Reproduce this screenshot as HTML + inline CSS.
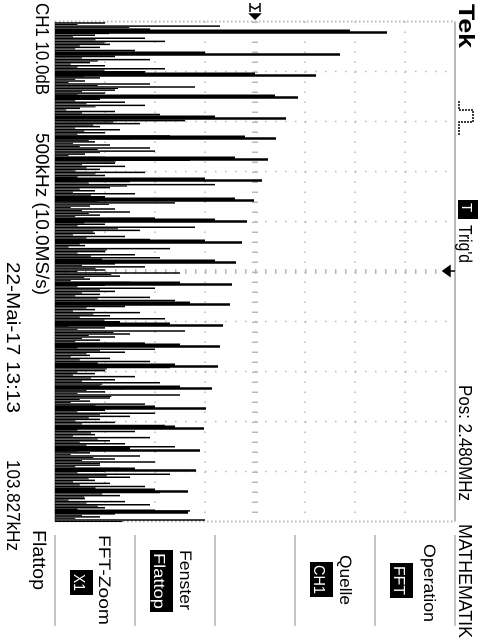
<!DOCTYPE html>
<html><head><meta charset="utf-8"><style>
html,body{margin:0;padding:0;background:#fff;width:480px;height:640px;overflow:hidden}
svg{display:block}
text{font-family:"Liberation Sans Narrow","Liberation Sans",sans-serif;fill:#000}
</style></head><body>
<svg id="scope" width="480" height="640" viewBox="0 0 480 640" xmlns="http://www.w3.org/2000/svg">
<g id="grid"></g>
<g id="marks"></g>
<text transform="translate(459,4) rotate(90)" font-size="22" font-weight="bold" textLength="44" lengthAdjust="spacingAndGlyphs">Tek</text>
<g fill="none" stroke="#000" stroke-width="1.5">
<path d="M459 101 L459 110 L473 110 L473 122 L459 122 L459 135" stroke-dasharray="2 1"/>
</g>
<rect x="458" y="200" width="20" height="19" fill="#000"/>
<text transform="translate(462,203) rotate(90)" font-size="15" style="fill:#fff">T</text>
<text transform="translate(459,225) rotate(90)" font-size="18" textLength="38" lengthAdjust="spacingAndGlyphs">Trig'd</text>
<text transform="translate(459,385) rotate(90)" font-size="18" textLength="116" lengthAdjust="spacingAndGlyphs">Pos: 2.480MHz</text>
<text transform="translate(459,524) rotate(90)" font-size="18" textLength="114" lengthAdjust="spacingAndGlyphs">MATHEMATIK</text>
<text transform="translate(36,3) rotate(90)" font-size="18" textLength="92" lengthAdjust="spacingAndGlyphs">CH1 10.0dB</text>
<text transform="translate(36,133) rotate(90)" font-size="18" textLength="162" lengthAdjust="spacingAndGlyphs">500kHz (10.0MS/s)</text>
<text transform="translate(7,262) rotate(90)" font-size="18" textLength="151" lengthAdjust="spacingAndGlyphs">22-Mai-17 13:13</text>
<text transform="translate(7,460) rotate(90)" font-size="18" textLength="91" lengthAdjust="spacingAndGlyphs">103.827kHz</text>
<text transform="translate(33,530) rotate(90)" font-size="18" textLength="60" lengthAdjust="spacingAndGlyphs">Flattop</text>
<g stroke="#000" stroke-width="1.5" fill="#000">
<path d="M250 3 L250 12 M260 3 L260 12 M250 6 L255 9 L260 6" fill="none"/>
<path d="M250 14 L260 14 L255 19 Z"/>
</g>
<g fill="#000" stroke="#000" stroke-width="1.5">
<path d="M443 271 L450 266 L450 276 Z"/><path d="M450 271 L455 271" />
</g>
<g id="menu" stroke="#b0b0b0" stroke-width="1.5">
<line x1="55" y1="535" x2="55" y2="626"/><line x1="135" y1="535" x2="135" y2="626"/>
<line x1="215" y1="535" x2="215" y2="626"/><line x1="295" y1="535" x2="295" y2="626"/>
<line x1="375" y1="535" x2="375" y2="626"/><line x1="455" y1="535" x2="455" y2="626"/>
</g>
<g>
<text transform="translate(424,544) rotate(90)" font-size="17" textLength="78" lengthAdjust="spacingAndGlyphs">Operation</text>
<rect x="390" y="563" width="23" height="35" fill="#000"/>
<text transform="translate(394,566) rotate(90)" font-size="16" style="fill:#fff" textLength="29" lengthAdjust="spacingAndGlyphs">FFT</text>
</g>
<g>
<text transform="translate(340,555) rotate(90)" font-size="17" textLength="50" lengthAdjust="spacingAndGlyphs">Quelle</text>
<rect x="310" y="562" width="23" height="35" fill="#000"/>
<text transform="translate(314,565) rotate(90)" font-size="16" style="fill:#fff" textLength="29" lengthAdjust="spacingAndGlyphs">CH1</text>
</g>
<g>
<text transform="translate(180,550) rotate(90)" font-size="17" textLength="60" lengthAdjust="spacingAndGlyphs">Fenster</text>
<rect x="150" y="550" width="23" height="62" fill="#000"/>
<text transform="translate(154,553) rotate(90)" font-size="16" style="fill:#fff" textLength="56" lengthAdjust="spacingAndGlyphs">Flattop</text>
</g>
<g>
<text transform="translate(99,535) rotate(90)" font-size="17" textLength="90" lengthAdjust="spacingAndGlyphs">FFT-Zoom</text>
<rect x="70" y="570" width="23" height="25" fill="#000"/>
<text transform="translate(74,574) rotate(90)" font-size="16" style="fill:#fff" textLength="17" lengthAdjust="spacingAndGlyphs">X1</text>
</g>
</svg>
<script>
// frequency of each harmonic peak (MHz) and its magnitude (divisions)
const peakFreqs = [0.09,0.31,0.52,0.74,0.95,1.15,1.36,1.57,1.77,1.98,2.19,2.39,2.61,2.81,3.02,3.23,3.43,3.65,3.85,4.05,4.27,4.47,4.68,4.89];
const peakValues = [6.64,5.70,5.22,4.86,4.62,4.42,4.26,4.14,3.98,3.84,3.74,3.62,3.54,3.50,3.36,3.30,3.26,3.14,3.02,2.98,2.90,2.82,2.66,2.66];
const peakShoulder = [5.9,3.0,4.0,4.4,3.2,3.8,3.6,3.0,3.6,3.2,3.0,3.2,2.5,2.7,2.3,2.5,2.4,2.5,2.0,2.4,1.5,1.6,2.0,2.0];
// noise floor bins across the span (divisions)
const noiseValues = [1.0,3.3,1.9,2.4,0.8,1.8,2.2,1.1,0.9,1.6,2.0,1.2,1.9,0.7,1.0,2.2,1.8,1.3,0.9,0.6,1.9,2.8,1.2,1.0,2.0,0.9,1.4,1.8,0.5,1.2,2.1,1.0,2.6,1.7,0.9,1.3,1.0,2.3,1.5,0.8,1.1,1.9,2.0,0.6,1.0,2.7,1.2,1.4,0.9,1.8,1.0,2.1,1.5,3.2,1.1,0.8,1.6,1.0,1.9,2.4,0.7,1.2,1.5,0.9,2.0,1.3,1.0,2.8,1.7,0.8,1.4,1.9,1.1,0.6,2.3,1.0,1.6,2.1,0.9,1.2,1.8,1.0,2.5,1.3,0.7,1.5,1.0,2.0,1.2,0.9,1.9,2.4,1.0,1.4,0.8,1.7,1.1,2.2,1.3,0.6,1.0,2.6,1.5,1.2,0.9,1.8,1.0,2.0,1.4,0.7,1.1,1.9,1.3,2.3,1.0,0.8,1.6,1.2,2.1,0.9,1.4,1.0,2.5,1.1,0.7,1.8,1.3,1.0,2.0,1.5,0.9,1.2,2.2,1.0,1.6,0.8,1.9,1.1,1.4,2.4,1.0,0.7,1.7,1.2,2.0,0.9,1.3,1.0,2.3,1.5,0.8,1.1,1.8,1.0,2.1,1.3,0.6,1.4,1.9,1.0,2.7,1.2,0.9,3.0];
const fMin = -0.02, fMax = 4.98;

const X0 = 55, Y0 = 21.5, DIV = 50;
function xScale(v){ return X0 + v*DIV; }
function yScale(f){ return Y0 + (f - fMin)/(fMax - fMin)*500; }
const NS = 'http://www.w3.org/2000/svg';
const grid = document.getElementById('grid');
const marks = document.getElementById('marks');
function line(parent,x1,y1,x2,y2,stroke,w,dash){
  const l = document.createElementNS(NS,'line');
  l.setAttribute('x1',x1);l.setAttribute('y1',y1);l.setAttribute('x2',x2);l.setAttribute('y2',y2);
  l.setAttribute('stroke',stroke);l.setAttribute('stroke-width',w);
  if(dash) l.setAttribute('stroke-dasharray',dash);
  parent.appendChild(l); return l;
}
for(let i=0;i<=8;i++){
  const x = X0 + i*DIV;
  const edge = (i===0||i===8);
  const g = line(grid,x,Y0,x,Y0+500,'#b8b8b8',edge?2:1.5,edge?null:'1.5 8.5');
  
  
}
for(let j=0;j<=10;j++){
  const y = Y0 + j*DIV;
  const edge = (j===0||j===10);
  const g = line(grid,X0,y,X0+400,y,'#b8b8b8',edge?2:1.5,edge?'1.5 2.5':'1.5 8.5');
  
  
}
const ca = line(grid,X0,Y0+250,X0+400,Y0+250,'#b8b8b8',5,'1.5 8.5');


const cv = line(grid,X0+200,Y0,X0+200,Y0+500,'#b8b8b8',6,'1.5 8.5');


const step = (fMax - fMin)/noiseValues.length;
noiseValues.forEach((v,i)=>{
  const y = yScale(fMin + (i+0.5)*step);
  const l = line(marks,X0,y,xScale(v),y,'#000',1.5);
  
  
  const l2 = line(marks,X0,y+1.5,xScale(v*0.45),y+1.5,'#000',1);
  
  
});
peakFreqs.forEach((f,i)=>{
  const y = yScale(f);
  const s = line(marks,X0,y-2,xScale(peakShoulder[i]),y-2,'#000',2);
  
  
  const p = line(marks,X0,y,xScale(peakValues[i]),y,'#000',2.5);
  
  
});
</script>
</body></html>
